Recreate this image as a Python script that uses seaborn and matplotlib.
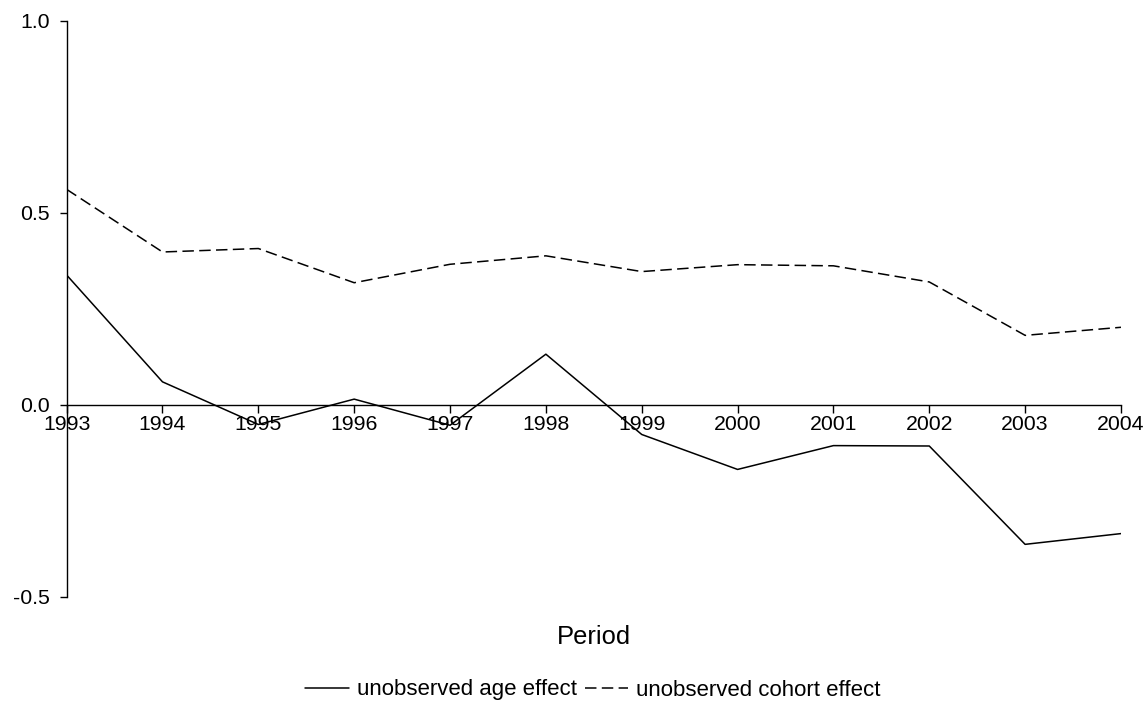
import numpy as np
import pandas as pd
import matplotlib
matplotlib.use("Agg")
import matplotlib.pyplot as plt
import seaborn as sns

years = [1993, 1994, 1995, 1996, 1997, 1998, 1999, 2000, 2001, 2002, 2003, 2004]
age_effect = [0.338, 0.060, -0.051, 0.015, -0.053, 0.132, -0.077, -0.168, -0.106, -0.107, -0.363, -0.335]
cohort_effect = [0.561, 0.398, 0.407, 0.318, 0.366, 0.388, 0.347, 0.365, 0.362, 0.320, 0.181, 0.202]
y_ticks = [-0.5, 0.0, 0.5, 1.0]

df = pd.DataFrame({"year": years, "age": age_effect, "cohort": cohort_effect})

sns.set_style("white")
plt.rcParams["font.family"] = ["Liberation Sans", "DejaVu Sans"]
plt.rcParams["text.color"] = "black"

fig = plt.figure(figsize=(11.47, 7.02), dpi=100)
ax = fig.add_axes([0.0581, 0.1496, 0.9773 - 0.0581, 0.9705 - 0.1496])

sns.lineplot(data=df, x="year", y="age", ax=ax, color="black", lw=1.1,
             label="unobserved age effect", legend=False)
sns.lineplot(data=df, x="year", y="cohort", ax=ax, color="black", lw=1.1,
             dashes=False, label="unobserved cohort effect", legend=False)
ax.lines[1].set_dashes((7.5, 3.5))

ax.set_xlim(years[0], years[-1])
ax.set_ylim(-0.5, 1.0)
ax.set_xticks(years)
ax.set_xticklabels([str(y) for y in years])
ax.set_yticks(y_ticks)
ax.set_yticklabels([f"{v:.1f}" for v in y_ticks])
ax.set_xlabel("")
ax.set_ylabel("")

for s in ["top", "right"]:
    ax.spines[s].set_visible(False)
ax.spines["bottom"].set_position(("data", 0))
for s in ["left", "bottom"]:
    ax.spines[s].set_color("black")
    ax.spines[s].set_linewidth(1.0)

ax.tick_params(axis="x", bottom=True, direction="out", length=5.5, width=1.0, pad=2,
               labelsize=15.3, colors="black")
ax.tick_params(axis="y", left=True, direction="out", length=5.3, width=1.0, pad=7,
               labelsize=15.3, colors="black")
ax.grid(False)

fig.text(594 / 1147, 1 - 637 / 702, "Period", ha="center", va="center",
         fontsize=18.4, color="black")

handles, labels = ax.get_legend_handles_labels()
leg = fig.legend(handles, labels, loc="center", bbox_to_anchor=(593 / 1147, 1 - 690 / 702),
                 ncol=2, frameon=False, fontsize=16, handlelength=1.95,
                 handletextpad=0.36, columnspacing=0.36, borderaxespad=0, borderpad=0)
for t in leg.get_texts():
    t.set_color("black")

fig.savefig("out.png", dpi=100, facecolor="white")
